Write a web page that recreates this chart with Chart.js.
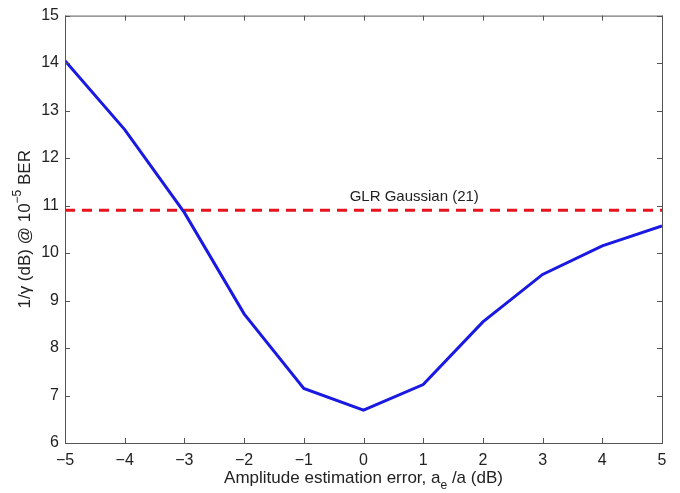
<!DOCTYPE html>
<html>
<head>
<meta charset="utf-8">
<script src="https://cdn.jsdelivr.net/npm/chart.js@4"></script>
<style>
  html, body { margin: 0; padding: 0; background: #fff; }
  #wrap { width: 680px; height: 493px; }
</style>
</head>
<body>
<div id="wrap"><canvas id="chart" width="680" height="493"></canvas></div>
<script>
// data
const errorDb = [-5, -4, -3, -2, -1, 0, 1, 2, 3, 4, 5];
const invGamma = [14.05, 12.6, 10.85, 8.72, 7.15, 6.69, 7.23, 8.55, 9.55, 10.15, 10.57];
const glrLevel = 10.9;
const glrLabel = 'GLR Gaussian (21)';
const glrLabelAt = [0.85, 11.18];
const xTicks = [-5, -4, -3, -2, -1, 0, 1, 2, 3, 4, 5];
const yTicks = [6, 7, 8, 9, 10, 11, 12, 13, 14, 15];

const fontFam = 'Helvetica, Arial, "Liberation Sans", sans-serif';
const txtColor = '#222';
const minus = v => String(v).replace('-', '\u2212');

// box around plot, inward tick marks, axis titles, annotation
const boxPlugin = {
  id: 'box',
  afterDraw(chart) {
    const { ctx, chartArea: a, scales: { x, y } } = chart;
    ctx.save();
    ctx.strokeStyle = '#555';
    ctx.lineWidth = 1;
    ctx.strokeRect(a.left + 0.5, a.top + 0.5, a.right - a.left, a.bottom - a.top);
    ctx.beginPath();
    xTicks.forEach(v => {
      const px = Math.round(x.getPixelForValue(v)) + 0.5;
      ctx.moveTo(px, a.bottom); ctx.lineTo(px, a.bottom - 5);
      ctx.moveTo(px, a.top); ctx.lineTo(px, a.top + 5);
    });
    yTicks.forEach(v => {
      const py = Math.round(y.getPixelForValue(v)) + 0.5;
      ctx.moveTo(a.left, py); ctx.lineTo(a.left + 5, py);
      ctx.moveTo(a.right, py); ctx.lineTo(a.right - 5, py);
    });
    ctx.stroke();

    ctx.fillStyle = txtColor;
    ctx.textBaseline = 'middle';

    // annotation
    ctx.font = '15px ' + fontFam;
    ctx.textAlign = 'center';
    ctx.fillText(glrLabel, x.getPixelForValue(glrLabelAt[0]), y.getPixelForValue(glrLabelAt[1]));

    // x title with subscript
    const parts = [['Amplitude estimation error, a', 17, 0], ['e', 12, 8], [' /a (dB)', 17, 0]];
    let w = 0;
    parts.forEach(p => { ctx.font = p[1] + 'px ' + fontFam; w += ctx.measureText(p[0]).width; });
    let cx = (a.left + a.right) / 2 - w / 2;
    const ty = 478;
    ctx.textAlign = 'left';
    parts.forEach(p => {
      ctx.font = p[1] + 'px ' + fontFam;
      ctx.fillText(p[0], cx, ty + p[2]);
      cx += ctx.measureText(p[0]).width;
    });

    // y title with superscript, rotated
    ctx.translate(25, (a.top + a.bottom) / 2);
    ctx.rotate(-Math.PI / 2);
    const yp = [['1/\u03b3 (dB) @ 10', 17, 0], ['\u22125', 12, -7], [' BER', 17, 0]];
    w = 0;
    yp.forEach(p => { ctx.font = p[1] + 'px ' + fontFam; w += ctx.measureText(p[0]).width; });
    cx = -w / 2;
    yp.forEach(p => {
      ctx.font = p[1] + 'px ' + fontFam;
      ctx.fillText(p[0], cx, p[2]);
      cx += ctx.measureText(p[0]).width;
    });
    ctx.restore();
  }
};

const ctx = document.getElementById('chart').getContext('2d');
new Chart(ctx, {
  type: 'line',
  data: {
    datasets: [
      {
        label: 'blue',
        data: errorDb.map((v, i) => ({ x: v, y: invGamma[i] })),
        borderColor: 'rgb(25, 25, 225)',
        borderWidth: 3,
        pointRadius: 0,
        tension: 0
      },
      {
        label: 'glr',
        data: [{ x: xTicks[0], y: glrLevel }, { x: xTicks[xTicks.length - 1], y: glrLevel }],
        borderColor: 'rgb(230, 20, 30)',
        borderWidth: 3,
        borderDash: [10, 7],
        pointRadius: 0
      }
    ]
  },
  options: {
    responsive: false,
    animation: false,
    layout: { padding: { top: 12, right: 18, left: 0, bottom: 0 } },
    plugins: { legend: { display: false }, tooltip: { enabled: false } },
    scales: {
      x: {
        type: 'linear',
        min: -5, max: 5,
        afterBuildTicks: s => { s.ticks = xTicks.map(v => ({ value: v })); },
        afterFit: s => { s.height = 50; },
        grid: { display: false, drawTicks: false },
        border: { display: false },
        ticks: {
          padding: 8,
          color: txtColor,
          font: { family: fontFam, size: 16 },
          callback: v => minus(v),
          maxRotation: 0
        }
      },
      y: {
        type: 'linear',
        min: 6, max: 15,
        afterBuildTicks: s => { s.ticks = yTicks.map(v => ({ value: v })); },
        afterFit: s => { s.width = 65; },
        grid: { display: false, drawTicks: false },
        border: { display: false },
        ticks: {
          padding: 6,
          color: txtColor,
          font: { family: fontFam, size: 16 },
          callback: v => minus(v)
        }
      }
    }
  },
  plugins: [boxPlugin]
});
</script>
</body>
</html>
